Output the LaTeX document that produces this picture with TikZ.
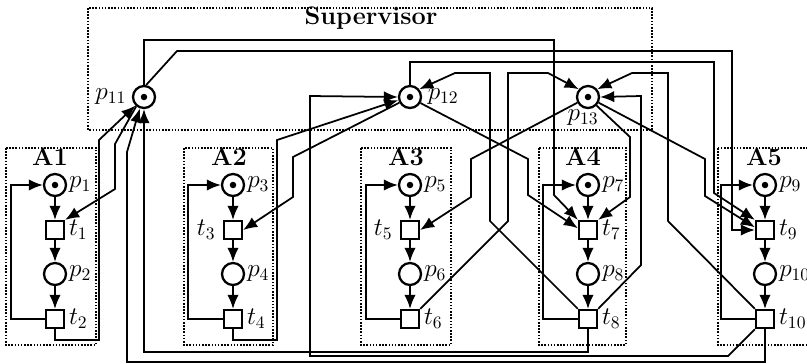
\documentclass[tikz,border=0pt]{standalone}
\usepackage{amsmath}
\usepackage{tikz}
\usetikzlibrary{arrows.meta}

\begin{document}
\begin{tikzpicture}[x=0.02cm, y=-0.02cm, font=\Large, >={Latex[length=8pt,width=6.5pt]},
                    place/.style={draw, circle, fill=white, line width=1.3pt, minimum size=0.44cm, inner sep=0pt},
                    marked/.style={place, path picture={\fill[black] (path picture bounding box.center) circle (0.065cm);}},
                    trans/.style={draw, rectangle, fill=white, line width=1.3pt, minimum size=0.36cm, inner sep=0pt},
                    module/.style={line width=0.9pt, dash pattern=on 0.9pt off 0.9pt},
                    arc/.style={->, line width=1pt},
                    title/.style={font=\Large\bfseries, inner sep=0pt}]
                        \useasboundingbox (0,0) rectangle (807,363);
                        \draw[module] (88,8) rectangle (652,130);
                        \draw[module] (6,148) rectangle (96,345);
                        \draw[module] (184,148) rectangle (273,345);
                        \draw[module] (361,148) rectangle (451,345);
                        \draw[module] (539,148) rectangle (626,345);
                        \draw[module] (718,148) rectangle (830,345);
                        \node[title] (sup) at (371,18) {Supervisor};
                        \node[title] (a1) at (50,157) {A1};
                        \node[title] (a2) at (229,157) {A2};
                        \node[title] (a3) at (406,157) {A3};
                        \node[title] (a4) at (583,157) {A4};
                        \node[title] (a5) at (764,157) {A5};
                        \node[marked, label={[inner sep=3pt]left:$p_{11}$}] (p11) at (144,97) {};
                        \node[marked, label={[inner sep=3pt]right:$p_{12}$}] (p12) at (410,97) {};
                        \node[marked, label={[inner sep=0pt, xshift=-0.1cm]below:$p_{13}$}] (p13) at (588,97) {};
                        \node[marked, label={[inner sep=1pt]right:$p_1$}] (p1) at (55,185) {};
                        \node[trans, label={[inner sep=2pt]right:$t_1$}] (t1) at (55,230) {};
                        \node[place, label={[inner sep=1pt]right:$p_2$}] (p2) at (55,274) {};
                        \node[trans, label={[inner sep=2pt]right:$t_2$}] (t2) at (55,319) {};
                        \node[marked, label={[inner sep=1pt]right:$p_3$}] (p3) at (233,185) {};
                        \node[trans, label={[inner sep=4pt]left:$t_3$}] (t3) at (233,230) {};
                        \node[place, label={[inner sep=1pt]right:$p_4$}] (p4) at (233,274) {};
                        \node[trans, label={[inner sep=2pt]right:$t_4$}] (t4) at (233,319) {};
                        \node[marked, label={[inner sep=1pt]right:$p_5$}] (p5) at (410,185) {};
                        \node[trans, label={[inner sep=4pt]left:$t_5$}] (t5) at (410,230) {};
                        \node[place, label={[inner sep=1pt]right:$p_6$}] (p6) at (410,274) {};
                        \node[trans, label={[inner sep=2pt]right:$t_6$}] (t6) at (410,319) {};
                        \node[marked, label={[inner sep=1pt]right:$p_7$}] (p7) at (588,185) {};
                        \node[trans, label={[inner sep=2pt]right:$t_7$}] (t7) at (588,230) {};
                        \node[place, label={[inner sep=1pt]right:$p_8$}] (p8) at (588,274) {};
                        \node[trans, label={[inner sep=2pt]right:$t_8$}] (t8) at (588,319) {};
                        \node[marked, label={[inner sep=1pt]right:$p_9$}] (p9) at (765,185) {};
                        \node[trans, label={[inner sep=2pt]right:$t_9$}] (t9) at (765,230) {};
                        \node[place, label={[inner sep=1pt]right:$p_{10}$}] (p10) at (765,274) {};
                        \node[trans, label={[inner sep=2pt]right:$t_{10}$}] (t10) at (765,319) {};
                        % local cycles
                        \draw[arc] (p1) -- (t1); \draw[arc] (t1) -- (p2); \draw[arc] (p2) -- (t2);
                        \draw[arc] (t2.west) -| (11,185) -- (p1);
                        \draw[arc] (p3) -- (t3); \draw[arc] (t3) -- (p4); \draw[arc] (p4) -- (t4);
                        \draw[arc] (t4.west) -| (188,185) -- (p3);
                        \draw[arc] (p5) -- (t5); \draw[arc] (t5) -- (p6); \draw[arc] (p6) -- (t6);
                        \draw[arc] (t6.west) -| (366,185) -- (p5);
                        \draw[arc] (p7) -- (t7); \draw[arc] (t7) -- (p8); \draw[arc] (p8) -- (t8);
                        \draw[arc] (t8.west) -| (543,185) -- (p7);
                        \draw[arc] (p9) -- (t9); \draw[arc] (t9) -- (p10); \draw[arc] (p10) -- (t10);
                        \draw[arc] (t10.west) -| (721,185) -- (p9);
                        % into the supervisor
                        \draw[arc] (t2.south) |- (99,340) -- (99,140) -- (p11.225);
                        \draw[arc] (t8.south) |- (144,352) -- (p11.south);
                        \draw[arc] (t10.south) |- (127,362) -- (127,152) -- (p11.250);
                        \draw[arc] (t4.south) |- (277,340) -- (277,140) -- (p12.195);
                        \draw[arc] (t10.south west) -- (728,356) -- (310,356) -- (310,96) -- (p12.west);
                        \draw[arc] (t8.north west) -- (490,221) -- (490,73) -- (455,73) -- (p12.40);
                        \draw[arc] (t6.north east) -- (508,221) -- (508,73) -- (548,73) -- (p13.140);
                        \draw[arc] (t8.north east) -- (641,265) -- (641,96) -- (p13.east);
                        \draw[arc] (t10.north west) -- (668,221) -- (668,73) -- (632,73) -- (p13.40);
                        % out of the supervisor
                        \draw[arc] (p11.230) -- (115,144) -- (115,189) -- (t1.north east);
                        \draw[arc] (p11.north) -- (144,40) -- (554,40) -- (554,195) -- (t7.north west);
                        \draw[arc] (p11.80) -- (177,51) -- (732,51) -- (732,230) -- (t9.west);
                        \draw[arc] (p12.208) -- (293,157) -- (293,197) -- (t3.east);
                        \draw[arc] (p12.north) -- (410,62) -- (714,62) -- (714,193) -- (t9.north west);
                        \draw[arc] (p12.-30) -- (528,159) -- (528,195) -- (t7.170);
                        \draw[arc] (p13.208) -- (471,159) -- (471,197) -- (t5.east);
                        \draw[arc] (p13.-45) -- (630,137) -- (630,197) -- (t7.north east);
                        \draw[arc] (p13.-28) -- (705,159) -- (705,196) -- (t9.165);
                    \end{tikzpicture}
\end{document}
